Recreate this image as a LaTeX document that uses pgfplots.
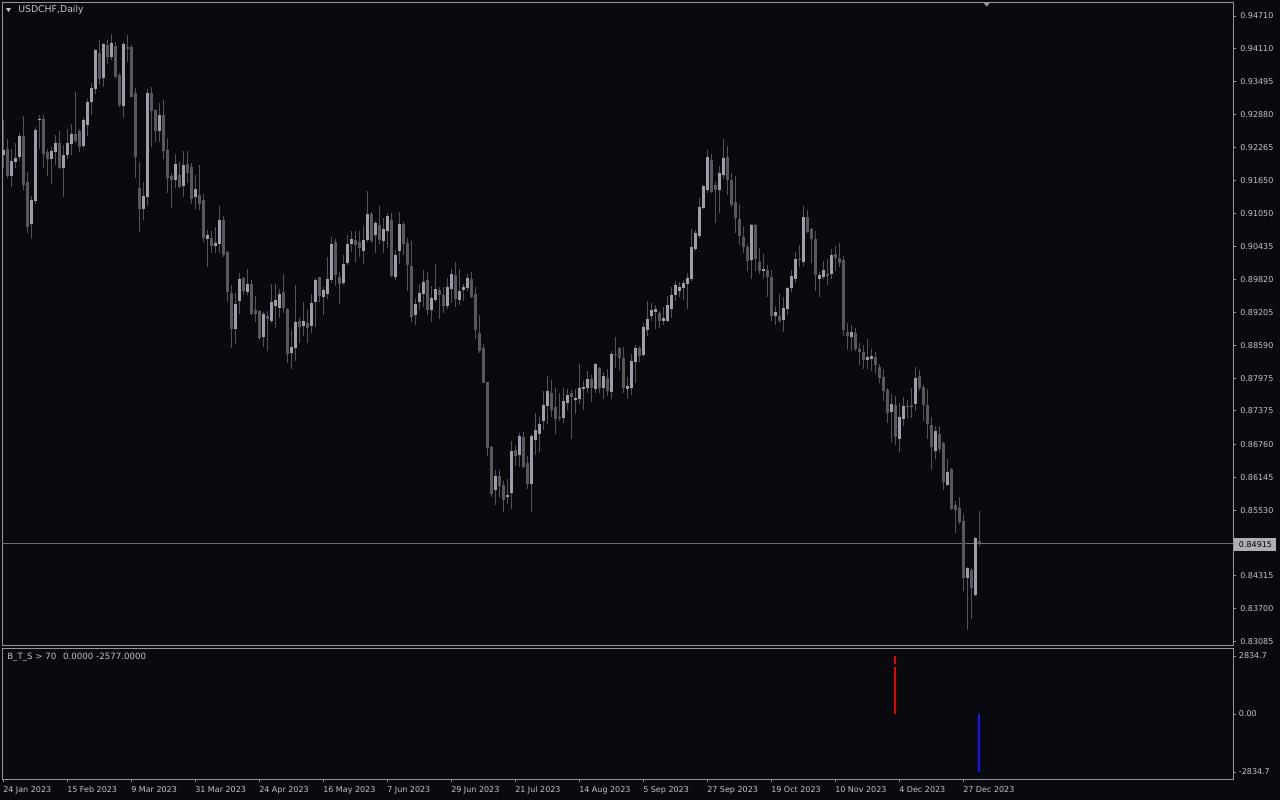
\documentclass[border=0pt]{standalone}
\usepackage{fontspec}
\setmainfont{DejaVu Sans}
\usepackage{pgfplots}
\pgfplotsset{compat=1.18}
\usepackage{pgfplotstable}

\definecolor{bg}{RGB}{10,10,14}
\definecolor{frame}{RGB}{150,150,155}
\definecolor{lbl}{RGB}{190,196,205}
\definecolor{bull}{RGB}{158,158,170}
\definecolor{bear}{RGB}{88,88,94}
\definecolor{wick}{RGB}{82,82,88}
\definecolor{pline}{RGB}{112,112,118}
\definecolor{upbar}{RGB}{235,0,0}
\definecolor{dnbar}{RGB}{20,20,255}

% USDCHF daily: bar index, open, high, low, close
\pgfplotstableread{
i o h l c
0 0.9213 0.9278 0.9189 0.9222
1 0.9224 0.9242 0.9170 0.9174
2 0.9174 0.9224 0.9154 0.9202
3 0.9200 0.9236 0.9189 0.9207
4 0.9210 0.9253 0.9202 0.9248
5 0.9248 0.9285 0.9147 0.9158
6 0.9163 0.9181 0.9068 0.9080
7 0.9085 0.9137 0.9056 0.9129
8 0.9128 0.9265 0.9121 0.9259
9 0.9277 0.9288 0.9224 0.9280
10 0.9280 0.9288 0.9189 0.9215
11 0.9218 0.9224 0.9174 0.9206
12 0.9206 0.9227 0.9159 0.9220
13 0.9219 0.9250 0.9195 0.9235
14 0.9236 0.9257 0.9187 0.9189
15 0.9189 0.9231 0.9134 0.9213
16 0.9212 0.9262 0.9205 0.9235
17 0.9234 0.9270 0.9212 0.9252
18 0.9252 0.9330 0.9236 0.9239
19 0.9257 0.9262 0.9218 0.9228
20 0.9230 0.9281 0.9225 0.9277
21 0.9269 0.9317 0.9249 0.9312
22 0.9312 0.9347 0.9287 0.9337
23 0.9336 0.9410 0.9327 0.9408
24 0.9403 0.9426 0.9342 0.9354
25 0.9356 0.9421 0.9339 0.9419
26 0.9418 0.9426 0.9381 0.9394
27 0.9394 0.9438 0.9389 0.9420
28 0.9416 0.9423 0.9356 0.9358
29 0.9361 0.9366 0.9302 0.9305
30 0.9304 0.9423 0.9282 0.9419
31 0.9414 0.9436 0.9386 0.9410
32 0.9414 0.9417 0.9320 0.9321
33 0.9328 0.9337 0.9171 0.9210
34 0.9152 0.9200 0.9069 0.9113
35 0.9113 0.9163 0.9092 0.9137
36 0.9135 0.9335 0.9118 0.9328
37 0.9328 0.9339 0.9227 0.9295
38 0.9296 0.9298 0.9237 0.9258
39 0.9258 0.9309 0.9237 0.9287
40 0.9287 0.9315 0.9205 0.9221
41 0.9222 0.9244 0.9143 0.9171
42 0.9174 0.9179 0.9115 0.9167
43 0.9167 0.9215 0.9152 0.9196
44 0.9176 0.9200 0.9151 0.9154
45 0.9156 0.9220 0.9134 0.9194
46 0.9196 0.9220 0.9161 0.9180
47 0.9191 0.9198 0.9122 0.9132
48 0.9134 0.9176 0.9113 0.9150
49 0.9139 0.9194 0.9111 0.9122
50 0.9129 0.9140 0.9052 0.9058
51 0.9056 0.9074 0.9004 0.9064
52 0.9059 0.9072 0.9031 0.9043
53 0.9044 0.9079 0.9030 0.9049
54 0.9048 0.9118 0.9031 0.9092
55 0.9092 0.9100 0.9024 0.9028
56 0.9033 0.9035 0.8940 0.8959
57 0.8957 0.8971 0.8855 0.8890
58 0.8890 0.8957 0.8862 0.8936
59 0.8942 0.8994 0.8918 0.8983
60 0.8984 0.8987 0.8952 0.8961
61 0.8958 0.9001 0.8953 0.8973
62 0.8973 0.8981 0.8916 0.8918
63 0.8925 0.8951 0.8903 0.8918
64 0.8923 0.8925 0.8869 0.8873
65 0.8875 0.8921 0.8857 0.8918
66 0.8914 0.8923 0.8848 0.8909
67 0.8905 0.8973 0.8900 0.8940
68 0.8933 0.8973 0.8892 0.8944
69 0.8929 0.8964 0.8910 0.8955
70 0.8958 0.8992 0.8920 0.8929
71 0.8927 0.8929 0.8827 0.8844
72 0.8845 0.8888 0.8816 0.8857
73 0.8855 0.8971 0.8831 0.8903
74 0.8905 0.8910 0.8864 0.8893
75 0.8896 0.8940 0.8877 0.8905
76 0.8901 0.8925 0.8864 0.8892
77 0.8896 0.8955 0.8883 0.8938
78 0.8940 0.8984 0.8894 0.8981
79 0.8986 0.8987 0.8939 0.8951
80 0.8950 0.8968 0.8916 0.8962
81 0.8955 0.9023 0.8946 0.8983
82 0.8981 0.9061 0.8976 0.9048
83 0.9051 0.9057 0.8970 0.8990
84 0.8986 0.8996 0.8937 0.8974
85 0.8976 0.9027 0.8972 0.9011
86 0.9013 0.9064 0.9009 0.9048
87 0.9048 0.9072 0.9033 0.9057
88 0.9055 0.9072 0.9014 0.9046
89 0.9051 0.9072 0.9023 0.9040
90 0.9035 0.9081 0.9011 0.9055
91 0.9055 0.9146 0.9051 0.9104
92 0.9104 0.9107 0.9049 0.9053
93 0.9064 0.9090 0.9031 0.9087
94 0.9082 0.9118 0.9048 0.9055
95 0.9053 0.9096 0.9030 0.9075
96 0.9072 0.9105 0.9040 0.9100
97 0.9092 0.9105 0.8986 0.8988
98 0.8986 0.9036 0.8981 0.9027
99 0.9035 0.9107 0.9011 0.9085
100 0.9085 0.9088 0.9027 0.9048
101 0.9049 0.9059 0.8960 0.9009
102 0.9007 0.9053 0.8903 0.8912
103 0.8916 0.8947 0.8898 0.8936
104 0.8940 0.8973 0.8925 0.8957
105 0.8955 0.8999 0.8931 0.8977
106 0.8981 0.8996 0.8916 0.8925
107 0.8925 0.8970 0.8903 0.8947
108 0.8944 0.9011 0.8940 0.8964
109 0.8962 0.8968 0.8909 0.8953
110 0.8953 0.8968 0.8920 0.8933
111 0.8933 0.8984 0.8926 0.8968
112 0.8964 0.9001 0.8938 0.8992
113 0.8990 0.9014 0.8931 0.8945
114 0.8944 0.9001 0.8934 0.8960
115 0.8962 0.8973 0.8942 0.8968
116 0.8966 0.8992 0.8960 0.8984
117 0.8983 0.8996 0.8947 0.8949
118 0.8955 0.8968 0.8871 0.8888
119 0.8882 0.8916 0.8846 0.8848
120 0.8854 0.8862 0.8789 0.8790
121 0.8791 0.8792 0.8654 0.8669
122 0.8671 0.8673 0.8578 0.8583
123 0.8591 0.8628 0.8562 0.8617
124 0.8617 0.8628 0.8575 0.8599
125 0.8600 0.8607 0.8550 0.8572
126 0.8578 0.8611 0.8564 0.8582
127 0.8585 0.8682 0.8556 0.8663
128 0.8665 0.8672 0.8636 0.8654
129 0.8656 0.8697 0.8634 0.8691
130 0.8689 0.8698 0.8632 0.8633
131 0.8641 0.8654 0.8593 0.8602
132 0.8602 0.8695 0.8549 0.8691
133 0.8684 0.8734 0.8656 0.8702
134 0.8695 0.8726 0.8661 0.8713
135 0.8718 0.8775 0.8703 0.8749
136 0.8747 0.8803 0.8714 0.8775
137 0.8771 0.8795 0.8727 0.8740
138 0.8745 0.8781 0.8695 0.8723
139 0.8726 0.8771 0.8718 0.8724
140 0.8725 0.8781 0.8716 0.8756
141 0.8752 0.8778 0.8739 0.8767
142 0.8771 0.8776 0.8686 0.8764
143 0.8757 0.8778 0.8731 0.8762
144 0.8760 0.8825 0.8751 0.8780
145 0.8778 0.8794 0.8740 0.8782
146 0.8781 0.8812 0.8770 0.8797
147 0.8797 0.8805 0.8755 0.8781
148 0.8779 0.8826 0.8770 0.8825
149 0.8817 0.8820 0.8771 0.8780
150 0.8781 0.8810 0.8760 0.8803
151 0.8799 0.8816 0.8766 0.8775
152 0.8773 0.8849 0.8759 0.8843
153 0.8843 0.8874 0.8818 0.8841
154 0.8854 0.8856 0.8814 0.8835
155 0.8836 0.8856 0.8771 0.8781
156 0.8778 0.8801 0.8759 0.8783
157 0.8781 0.8843 0.8767 0.8831
158 0.8829 0.8860 0.8790 0.8854
159 0.8854 0.8858 0.8829 0.8840
160 0.8842 0.8901 0.8837 0.8893
161 0.8887 0.8942 0.8877 0.8908
162 0.8913 0.8938 0.8905 0.8925
163 0.8922 0.8934 0.8890 0.8927
164 0.8919 0.8923 0.8892 0.8905
165 0.8905 0.8931 0.8898 0.8910
166 0.8905 0.8951 0.8903 0.8934
167 0.8927 0.8968 0.8911 0.8953
168 0.8952 0.8979 0.8942 0.8971
169 0.8961 0.8977 0.8949 0.8968
170 0.8965 0.8981 0.8944 0.8975
171 0.8974 0.8994 0.8927 0.8984
172 0.8983 0.9075 0.8979 0.9042
173 0.9039 0.9074 0.9035 0.9068
174 0.9063 0.9133 0.9058 0.9116
175 0.9114 0.9157 0.9113 0.9155
176 0.9147 0.9222 0.9143 0.9209
177 0.9204 0.9215 0.9143 0.9144
178 0.9157 0.9163 0.9087 0.9148
179 0.9148 0.9193 0.9106 0.9179
180 0.9176 0.9243 0.9169 0.9207
181 0.9209 0.9230 0.9139 0.9167
182 0.9166 0.9179 0.9116 0.9120
183 0.9126 0.9174 0.9068 0.9096
184 0.9094 0.9122 0.9046 0.9062
185 0.9061 0.9081 0.9031 0.9042
186 0.9042 0.9048 0.8998 0.9016
187 0.9018 0.9085 0.8983 0.9083
188 0.9083 0.9085 0.8998 0.9020
189 0.9014 0.9040 0.8992 0.8998
190 0.8998 0.9029 0.8985 0.9001
191 0.8999 0.9009 0.8950 0.8987
192 0.8986 0.8999 0.8905 0.8913
193 0.8914 0.8933 0.8898 0.8922
194 0.8913 0.8955 0.8901 0.8905
195 0.8907 0.8950 0.8885 0.8929
196 0.8927 0.8967 0.8916 0.8966
197 0.8965 0.8999 0.8959 0.8988
198 0.8983 0.9033 0.8976 0.9020
199 0.9020 0.9046 0.9004 0.9017
200 0.9014 0.9118 0.9006 0.9098
201 0.9098 0.9111 0.9068 0.9070
202 0.9075 0.9077 0.9013 0.9056
203 0.9057 0.9072 0.8961 0.8990
204 0.8983 0.8996 0.8950 0.8990
205 0.8987 0.9016 0.8983 0.8999
206 0.8992 0.9020 0.8972 0.8989
207 0.8992 0.9038 0.8983 0.9027
208 0.9029 0.9044 0.8998 0.9022
209 0.9022 0.9049 0.9004 0.9012
210 0.9018 0.9025 0.8876 0.8887
211 0.8884 0.8901 0.8851 0.8877
212 0.8874 0.8897 0.8849 0.8884
213 0.8882 0.8892 0.8848 0.8853
214 0.8853 0.8864 0.8822 0.8847
215 0.8847 0.8860 0.8816 0.8833
216 0.8832 0.8871 0.8816 0.8838
217 0.8834 0.8853 0.8812 0.8840
218 0.8838 0.8847 0.8807 0.8822
219 0.8820 0.8824 0.8790 0.8799
220 0.8800 0.8816 0.8756 0.8775
221 0.8776 0.8781 0.8716 0.8734
222 0.8736 0.8769 0.8680 0.8750
223 0.8749 0.8765 0.8674 0.8689
224 0.8686 0.8752 0.8662 0.8726
225 0.8723 0.8763 0.8710 0.8747
226 0.8747 0.8758 0.8725 0.8745
227 0.8749 0.8780 0.8724 0.8745
228 0.8750 0.8819 0.8737 0.8799
229 0.8803 0.8814 0.8775 0.8780
230 0.8782 0.8786 0.8719 0.8749
231 0.8749 0.8778 0.8686 0.8713
232 0.8712 0.8727 0.8627 0.8671
233 0.8663 0.8710 0.8649 0.8700
234 0.8695 0.8710 0.8661 0.8667
235 0.8678 0.8680 0.8590 0.8606
236 0.8600 0.8648 0.8598 0.8624
237 0.8630 0.8632 0.8554 0.8556
238 0.8563 0.8570 0.8510 0.8554
239 0.8557 0.8578 0.8528 0.8531
240 0.8533 0.8546 0.8404 0.8428
241 0.8428 0.8448 0.8330 0.8446
242 0.8442 0.8446 0.8352 0.8409
243 0.8396 0.8504 0.8394 0.8502
244 0.8496 0.8552 0.8486 0.84915
}\candles

\begin{document}
\begin{tikzpicture}[font=\fontsize{6}{7}\selectfont]
\path[use as bounding box] (0,0) rectangle (960pt,-600pt);
\fill[bg] (0,0) rectangle (960pt,-600pt);

% price panel
\begin{axis}[
  scale only axis, anchor=south west, at={(1.5pt,-483.75pt)},
  width=923.25pt, height=482.25pt,
  xmin=-0.25, xmax=307.5, ymin=0.83029, ymax=0.9497,
  axis line style={draw=frame, line width=0.75pt},
  xtick=\empty,
  ytick={0.94710,0.94110,0.93495,0.92880,0.92265,0.91650,0.91050,0.90435,0.89820,0.89205,0.88590,0.87975,0.87375,0.86760,0.86145,0.85530,0.84315,0.83700,0.83085},
  yticklabels={0.94710,0.94110,0.93495,0.92880,0.92265,0.91650,0.91050,0.90435,0.89820,0.89205,0.88590,0.87975,0.87375,0.86760,0.86145,0.85530,0.84315,0.83700,0.83085},
  ytick pos=right, yticklabel pos=right,
  tick align=outside, major tick length=2.25pt,
  tick style={draw=frame, line width=0.75pt},
  yticklabel style={text=lbl, inner sep=0pt, anchor=west, xshift=3pt, font=\fontsize{6}{7}\selectfont},
  /pgf/number format/assume math mode=true,
]
\addplot[pline, line width=0.75pt] coordinates {(-0.25,0.84915) (307.5,0.84915)};
% wicks
\addplot[draw=none, mark=none,
  error bars/.cd, y dir=plus, y explicit, error mark=none,
  error bar style={draw=wick, line width=0.75pt}]
  table[x=i, y=l, y error plus expr=\thisrow{h}-\thisrow{l}] {\candles};
% bull bodies
\addplot[draw=none, mark=none,
  restrict expr to domain={\thisrow{c}-\thisrow{o}}{0:1},
  error bars/.cd, y dir=plus, y explicit, error mark=none,
  error bar style={draw=bull, line width=2.25pt}]
  table[x=i, y=o, y error plus expr={max(\thisrow{c}-\thisrow{o},0.00012)}] {\candles};
% bear bodies
\addplot[draw=none, mark=none,
  restrict expr to domain={\thisrow{o}-\thisrow{c}}{0.000001:1},
  error bars/.cd, y dir=plus, y explicit, error mark=none,
  error bar style={draw=bear, line width=2.25pt}]
  table[x=i, y=c, y error plus expr={max(\thisrow{o}-\thisrow{c},0.00012)}] {\candles};
\end{axis}

% indicator panel
\begin{axis}[
  scale only axis, anchor=south west, at={(1.5pt,-584.25pt)},
  width=923.25pt, height=98.25pt,
  xmin=-0.25, xmax=307.5, ymin=-3177, ymax=3226,
  axis line style={draw=frame, line width=0.75pt},
  xtick={0,16,...,240},
  xticklabels={24 Jan 2023,15 Feb 2023,9 Mar 2023,31 Mar 2023,24 Apr 2023,16 May 2023,7 Jun 2023,29 Jun 2023,21 Jul 2023,14 Aug 2023,5 Sep 2023,27 Sep 2023,19 Oct 2023,10 Nov 2023,4 Dec 2023,27 Dec 2023},
  xtick pos=left, xticklabel pos=left,
  ytick={-2834.7,0,2834.7}, yticklabels={-2834.7,0.00,2834.7},
  ytick pos=right, yticklabel pos=right,
  tick align=outside, major tick length=2.25pt,
  tick style={draw=frame, line width=0.75pt},
  xticklabel style={text=lbl, inner sep=0pt, anchor=north west, yshift=-3pt, font=\fontsize{6}{7}\selectfont},
  yticklabel style={text=lbl, inner sep=0pt, anchor=west, xshift=2pt, font=\fontsize{6}{7}\selectfont},
]
\addplot[draw=none, mark=none,
  error bars/.cd, y dir=plus, y explicit, error mark=none,
  error bar style={draw=upbar, line width=1.1pt}]
  coordinates {(223,0) +- (0,2297) (223,2443) +- (0,392)};
\addplot[draw=none, mark=none,
  error bars/.cd, y dir=minus, y explicit, error mark=none,
  error bar style={draw=dnbar, line width=1.1pt}]
  coordinates {(244,0) +- (0,2834.7)};
\end{axis}

% captions and markers
\fill[lbl] (4.5pt,-6pt) -- (8.25pt,-6pt) -- (6.375pt,-9pt) -- cycle;
\node[anchor=west, inner sep=0pt, text=lbl, font=\fontsize{7}{8}\selectfont] at (13.5pt,-7.6pt) {USDCHF,Daily};
\fill[frame] (737.5pt,-2pt) -- (742.5pt,-2pt) -- (740pt,-5pt) -- cycle;
\node[anchor=west, inner sep=0pt, text=lbl, font=\fontsize{6.5}{7.5}\selectfont] at (5.25pt,-492.75pt) {B\_T\_S > 70\hspace{5pt}0.0000 -2577.0000};
\node[fill={rgb,255:red,175;green,175;blue,180}, text=black, inner sep=0pt, minimum width=31.5pt, minimum height=9.5pt] at (941.6pt,-408.2pt) {0.84915};
\end{tikzpicture}
\end{document}
